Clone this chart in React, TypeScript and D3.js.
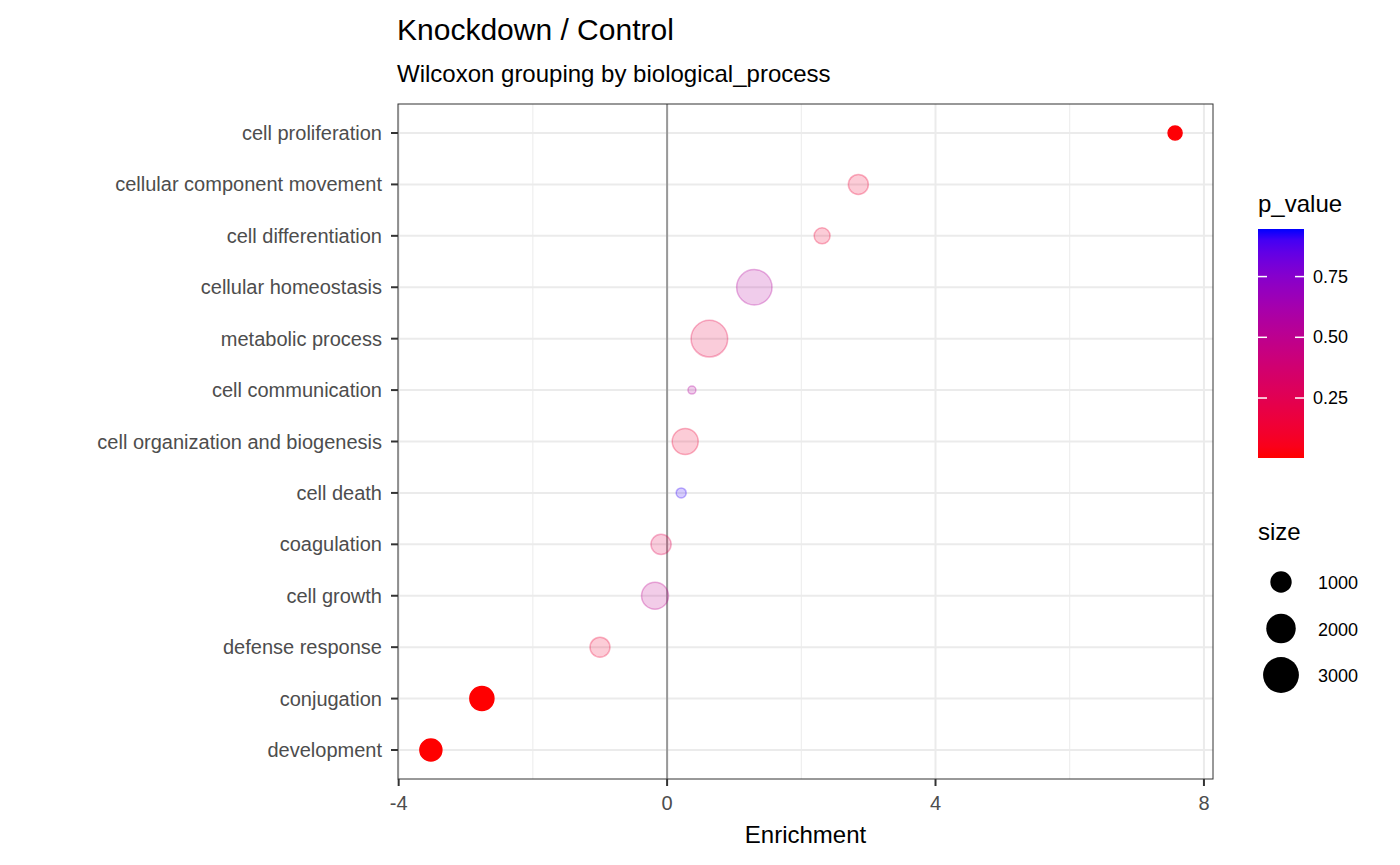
import React from "react";
import * as d3 from "d3";

const categories = ["cell proliferation","cellular component movement","cell differentiation","cellular homeostasis","metabolic process","cell communication","cell organization and biogenesis","cell death","coagulation","cell growth","defense response","conjugation","development"];
const enrichment = [7.57,2.85,2.31,1.30,0.63,0.37,0.27,0.21,-0.09,-0.18,-1.0,-2.76,-3.52];
const pValues = [0.01,0.15,0.15,0.55,0.2,0.55,0.15,0.92,0.25,0.5,0.15,0.005,0.003];
const sizes = [370,860,510,2920,3130,50,1530,140,880,1650,860,1290,1060];
const xTicks = [-4,0,4,8];
const xMinor = [-2,2,6];
const colorTicks = [0.25,0.5,0.75];
const sizeBreaks = [1000,2000,3000];

const W = 1400, H = 865;
const L = 398, R = 1213, T = 104, B = 779;
const font = "Liberation Sans, Arial, sans-serif";

export default function App() {
  const x = d3.scaleLinear().domain([-4.01, 8.135]).range([L, R]);
  const y = d3.scalePoint<string>().domain(categories).range([133, 750]);
  const area = d3.scaleLinear().domain([50, 3200]).range([16, 342]);
  const rad = (s: number) => Math.sqrt(area(s));
  const col = d3.scaleLinear<string>().domain([0.003, 0.946]).range(["#ff0000", "#0000ff"]).interpolate(d3.interpolateLab);
  const cb = d3.scaleLinear().domain([0.003, 0.946]).range([458, 229]);
  const stops = d3.range(0, 1.0001, 0.05);
  return (
    <svg width={W} height={H} style={{ position: "absolute", left: 0, top: 0 }} fontFamily={font}>
      <rect width={W} height={H} fill="white" />
      <text x={397} y={40} fontSize={30}>Knockdown / Control</text>
      <text x={397} y={82} fontSize={24}>Wilcoxon grouping by biological_process</text>
      {xMinor.map(v => <line key={"m"+v} x1={x(v)} x2={x(v)} y1={T} y2={B} stroke="#ebebeb" strokeWidth={1} />)}
      {xTicks.map(v => <line key={"M"+v} x1={x(v)} x2={x(v)} y1={T} y2={B} stroke="#ebebeb" strokeWidth={2} />)}
      {categories.map(c => <line key={c} x1={L} x2={R} y1={y(c)} y2={y(c)} stroke="#ebebeb" strokeWidth={2} />)}
      <line x1={x(0)} x2={x(0)} y1={T} y2={B} stroke="#999" strokeWidth={2} />
      {categories.map((c, i) => {
        const sig = pValues[i] < 0.05;
        const cc = col(pValues[i]);
        return <circle key={c} cx={x(enrichment[i])} cy={y(c)} r={rad(sizes[i])} fill={cc}
          fillOpacity={sig ? 1 : 0.2} stroke={cc} strokeOpacity={sig ? 1 : 0.3} strokeWidth={1.5} />;
      })}
      <rect x={L} y={T} width={R - L} height={B - T} fill="none" stroke="#333" strokeWidth={1} />
      {categories.map(c => (
        <g key={"l"+c}>
          <line x1={L - 7} x2={L} y1={y(c)} y2={y(c)} stroke="#333" strokeWidth={2} />
          <text x={382} y={y(c)! + 7} fontSize={20} textAnchor="end" fill="#4d4d4d">{c}</text>
        </g>
      ))}
      {xTicks.map(v => (
        <g key={"t"+v}>
          <line x1={x(v)} x2={x(v)} y1={B} y2={B + 7} stroke="#333" strokeWidth={2} />
          <text x={x(v)} y={810} fontSize={20} textAnchor="middle" fill="#4d4d4d">{v}</text>
        </g>
      ))}
      <text x={(L + R) / 2} y={843} fontSize={24} textAnchor="middle">Enrichment</text>
      <text x={1258} y={212} fontSize={24}>p_value</text>
      <defs>
        <linearGradient id="cbg" x1="0" y1="1" x2="0" y2="0">
          {stops.map(s => <stop key={s} offset={s} stopColor={col(0.003 + s * (0.946 - 0.003))} />)}
        </linearGradient>
      </defs>
      <rect x={1258} y={229} width={46} height={229} fill="url(#cbg)" />
      {colorTicks.map(v => (
        <g key={"c"+v}>
          <line x1={1258} x2={1267} y1={cb(v)} y2={cb(v)} stroke="white" strokeWidth={1.5} />
          <line x1={1295} x2={1304} y1={cb(v)} y2={cb(v)} stroke="white" strokeWidth={1.5} />
          <text x={1313} y={cb(v) + 6} fontSize={18}>{v.toFixed(2)}</text>
        </g>
      ))}
      <text x={1258} y={540} fontSize={24}>size</text>
      {sizeBreaks.map((s, i) => (
        <g key={"s"+s}>
          <circle cx={1281} cy={582 + i * 46.5} r={rad(s)} fill="black" />
          <text x={1318} y={582 + i * 46.5 + 7} fontSize={18}>{s}</text>
        </g>
      ))}
    </svg>
  );
}
